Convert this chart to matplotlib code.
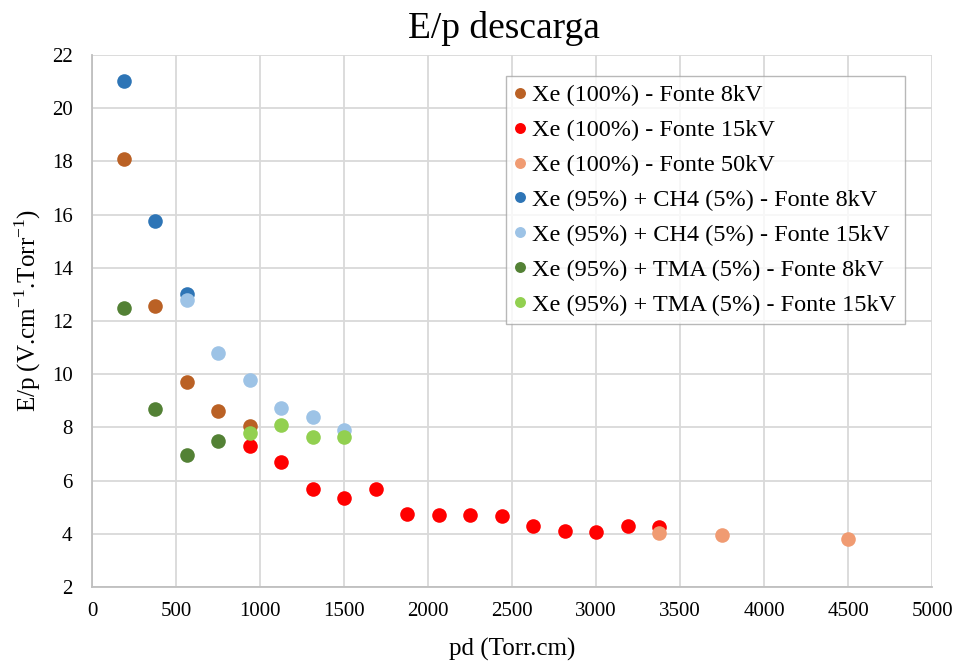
import numpy as np
import matplotlib
matplotlib.use('Agg')
import matplotlib.pyplot as plt

plt.rcParams['font.family'] = ['Liberation Serif', 'DejaVu Serif']
plt.rcParams['mathtext.fontset'] = 'custom'
plt.rcParams['mathtext.rm'] = 'Liberation Serif'

# ---------------------------------------------------------------- #

xe100_8kv_x = [187.5, 375, 562.5, 750, 937.5]
xe100_8kv_y = [18.1, 12.55, 9.7, 8.6, 8.05]

xe100_15kv_x = [937.5, 1125, 1312.5, 1500, 1687.5, 1875, 2062.5, 2250,
                2437.5, 2625, 2812.5, 3000, 3187.5, 3375]
xe100_15kv_y = [7.3, 6.7, 5.68, 5.35, 5.7, 4.76, 4.72, 4.72,
                4.68, 4.3, 4.12, 4.07, 4.3, 4.27]

xe100_50kv_x = [3375, 3750, 4500]
xe100_50kv_y = [4.03, 3.95, 3.8]

ch4_8kv_x = [187.5, 375, 562.5]
ch4_8kv_y = [21.03, 15.75, 13.0]

ch4_15kv_x = [562.5, 750, 937.5, 1125, 1312.5, 1500]
ch4_15kv_y = [12.8, 10.8, 9.8, 8.72, 8.4, 7.9]

tma_8kv_x = [187.5, 375, 562.5, 750]
tma_8kv_y = [12.5, 8.7, 6.95, 7.5]

tma_15kv_x = [937.5, 1125, 1312.5, 1500]
tma_15kv_y = [7.8, 8.1, 7.63, 7.63]

series = [
    (xe100_8kv_x, xe100_8kv_y, '#BA6125', 'Xe (100%) - Fonte 8kV'),
    (xe100_15kv_x, xe100_15kv_y, '#FF0000', 'Xe (100%) - Fonte 15kV'),
    (xe100_50kv_x, xe100_50kv_y, '#F09B72', 'Xe (100%) - Fonte 50kV'),
    (ch4_8kv_x, ch4_8kv_y, '#2E75B6', 'Xe (95%) + CH4 (5%) - Fonte 8kV'),
    (ch4_15kv_x, ch4_15kv_y, '#9DC3E6', 'Xe (95%) + CH4 (5%) - Fonte 15kV'),
    (tma_8kv_x, tma_8kv_y, '#538135', 'Xe (95%) + TMA (5%) - Fonte 8kV'),
    (tma_15kv_x, tma_15kv_y, '#92D050', 'Xe (95%) + TMA (5%) - Fonte 15kV'),
]

# ---------------------------------------------------------------- #

fig = plt.figure(figsize=(9.55, 6.64), dpi=100)
ax = fig.add_axes([92 / 955, 1 - 587 / 664, 840 / 955, 532 / 664])

for xs, ys, color, label in series:
    ax.plot(xs, ys, linestyle='none', marker='o', markersize=10.5,
            color=color, markeredgewidth=0, label=label, zorder=3)

ax.set_xlim(0, 5000)
ax.set_ylim(2, 22)
ax.set_xticks(np.arange(0, 5001, 500))
ax.set_yticks(np.arange(2, 23, 2))
ax.grid(color='#D9D9D9', linewidth=1.3, zorder=0)
ax.set_axisbelow(True)
ax.tick_params(axis='x', length=0, labelsize=15, pad=11)
ax.tick_params(axis='y', length=0, labelsize=15, pad=14)

for side in ['top', 'right']:
    ax.spines[side].set_visible(False)
for side in ['left', 'bottom']:
    ax.spines[side].set_color('#BFBFBF')
    ax.spines[side].set_linewidth(1.3)

ax.set_title('E/p descarga', fontsize=27, pad=12, x=0.4905)
ax.set_xlabel('pd (Torr.cm)', fontsize=18, labelpad=12)
ax.set_ylabel('E/p (V.cm$^{-1}$.Torr$^{-1}$)', fontsize=18)
ax.yaxis.set_label_coords(-0.058, 0.52)

leg = ax.legend(loc='upper right', bbox_to_anchor=(0.968, 0.961),
                fontsize=17.5, frameon=True, fancybox=False,
                handlelength=0.5, handletextpad=0.25, borderpad=0.35,
                labelspacing=0.53, borderaxespad=0, markerscale=0.75)
leg.get_frame().set_edgecolor('#A6A6A6')
leg.get_frame().set_linewidth(1.0)

fig.savefig('out.png', dpi=100)
